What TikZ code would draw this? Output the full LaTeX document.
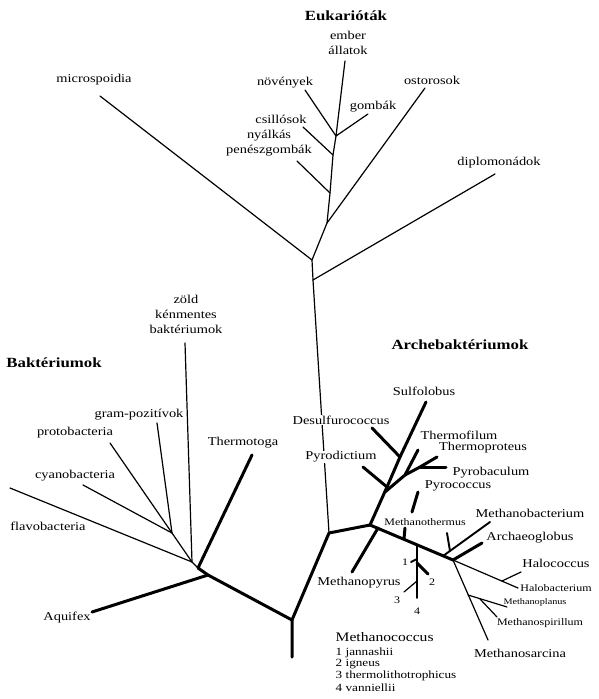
\documentclass[tikz,border=0pt]{standalone}
\usepackage{fontspec}
\setmainfont{Liberation Serif}[FakeStretch=1.2]
\begin{document}
\begin{tikzpicture}[x=1pt,y=-1pt,
  twig/.style={line width=1.2pt, line cap=round},
  limb/.style={line width=3pt, line cap=round, line join=round},
  midw/.style={line width=1.9pt, line cap=round},
  lbl/.style={font=\fontsize{12}{15}\selectfont, inner sep=0.5pt, align=center},
  sml/.style={font=\fontsize{10}{11.7}\selectfont, inner sep=0.5pt},
  lst/.style={font=\fontsize{11}{11.7}\selectfont, inner sep=0.5pt},
  xsml/.style={font=\fontsize{8.5}{10}\selectfont, inner sep=0.5pt},
  ttl/.style={font=\bfseries\fontsize{14}{16}\selectfont, inner sep=0.5pt},
  wht/.style={fill=white}]
\useasboundingbox (0,0) rectangle (599,699);

% ---------- coordinates ----------
% eukaryotes
\coordinate (E0) at (329,533);
\coordinate (EB) at (313,280);
\coordinate (EA) at (312,260);
\coordinate (EC) at (327,223);
\coordinate (ED) at (330,193);
\coordinate (EE) at (333,155);
\coordinate (EF) at (336,136);
\coordinate (tMicro) at (100,96);
\coordinate (tDiplo) at (495,174);
\coordinate (tOstor) at (425,88);
\coordinate (tNyalk) at (297,161);
\coordinate (tCsill) at (303,127);
\coordinate (tNov) at (305,90);
\coordinate (tGomb) at (368,114);
\coordinate (tEmber) at (345,61);
% bacteria
\coordinate (R) at (292,620);
\coordinate (Rs) at (292,657);
\coordinate (B1) at (208,575);
\coordinate (B2) at (198,568);
\coordinate (B3) at (192,562);
\coordinate (B4) at (172,533);
\coordinate (tAq) at (92,612);
\coordinate (tTt) at (252,455);
\coordinate (tZold) at (185,343);
\coordinate (tGram) at (157,423);
\coordinate (tProto) at (110,443);
\coordinate (tCyano) at (83,485);
\coordinate (tFlavo) at (10,488);
% archaea
\coordinate (A0) at (370,525);
\coordinate (C2) at (387,487);
\coordinate (C2b) at (385,492);
\coordinate (C3) at (400,457);
\coordinate (C4) at (405,475);
\coordinate (C5) at (420,467);
\coordinate (tSulf) at (426,402);
\coordinate (tDesulf) at (372,428);
\coordinate (tPyrod) at (363,467);
\coordinate (tTfil) at (418,450);
\coordinate (tTprot) at (437,457);
\coordinate (tPbac) at (446,467);
\coordinate (pc1) at (418,492);
\coordinate (pc2) at (412,512);
\coordinate (AE) at (453,560);
\coordinate (mth1) at (404,539);
\coordinate (mth2) at (405,528);
\coordinate (mpy) at (378,528);
\coordinate (tMpy) at (352,572);
\coordinate (mcT) at (417,545);
\coordinate (mcB) at (417,598);
\coordinate (mc1) at (417,559);
\coordinate (mc1t) at (411,562);
\coordinate (mc2) at (417,563);
\coordinate (mc2t) at (428,574);
\coordinate (mc3) at (417,581);
\coordinate (mc3t) at (404,592);
\coordinate (mba) at (443,556);
\coordinate (tMba) at (490,522);
\coordinate (mbs1) at (447,533);
\coordinate (mbs2) at (450,551);
\coordinate (tArch) at (482,543);
\coordinate (tHalob) at (518,588);
\coordinate (hcc) at (502,581);
\coordinate (tHcc) at (521,572);
\coordinate (tMsar) at (488,640);
\coordinate (mpl) at (468,595);
\coordinate (tMpl) at (507,607);
\coordinate (msp) at (480,599);
\coordinate (tMsp) at (497,617);

% ---------- eukaryote branches ----------
\draw[twig] (E0) -- (EB) -- (EA) -- (EC) -- (ED) -- (EE) -- (EF) -- (tEmber);
\draw[twig] (EA) -- (tMicro);
\draw[twig] (EB) -- (tDiplo);
\draw[twig] (EC) -- (tOstor);
\draw[twig] (ED) -- (tNyalk);
\draw[twig] (EE) -- (tCsill);
\draw[twig] (EF) -- (tNov);
\draw[twig] (EF) -- (tGomb);

% ---------- bacteria ----------
\draw[limb] (Rs) -- (R) -- (E0) -- (A0);
\draw[limb] (R) -- (B1) -- (B2) -- (tTt);
\draw[limb] (B1) -- (tAq);
\draw[twig] (B2) -- (B3) -- (tZold);
\draw[twig] (B3) -- (tFlavo);
\draw[twig] (B3) -- (B4) -- (tProto);
\draw[twig] (B4) -- (tCyano);
\draw[twig] (B4) -- (tGram);

% ---------- archaea ----------
\draw[limb] (A0) -- (C2) -- (C3) -- (tSulf);
\draw[limb] (C3) -- (tDesulf);
\draw[limb] (C2) -- (tPyrod);
\draw[limb] (C2b) -- (C4) -- (tTfil);
\draw[limb] (C4) -- (C5) -- (tTprot);
\draw[limb] (C5) -- (tPbac);
\draw[limb] (pc1) -- (pc2);
\draw[limb] (A0) -- (AE);
\draw[limb] (mth1) -- (mth2);
\draw[limb] (mpy) -- (tMpy);
\draw[midw] (mcT) -- (mcB);
\draw[midw] (mc1) -- (mc1t);
\draw[limb] (mc2) -- (mc2t);
\draw[twig] (mc3) -- (mc3t);
\draw[midw] (mba) -- (tMba);
\draw[midw] (mbs1) -- (mbs2);
\draw[limb] (AE) -- (tArch);
\draw[twig] (AE) -- (tHalob);
\draw[twig] (hcc) -- (tHcc);
\draw[twig] (AE) -- (tMsar);
\draw[twig] (mpl) -- (tMpl);
\draw[twig] (msp) -- (tMsp);

% ---------- labels ----------
\node[ttl] (lEuk) at (346,16) {Eukarióták};
\node[lbl] (lEmber) at (348,43) {ember\\állatok};
\node[lbl] (lMicro) at (94,80) {microspoidia};
\node[lbl] (lNov) at (285,83) {növények};
\node[lbl] (lGomb) at (373,107) {gombák};
\node[lbl] (lOstor) at (432,80) {ostorosok};
\node[lbl] (lCsill) at (281,119) {csillósok};
\node[lbl] (lNyalk) at (269,143.5) {nyálkás\\penészgombák};
\node[lbl] (lDiplo) at (499,163) {diplomonádok};

\node[ttl] (lBakt) at (54,363) {Baktériumok};
\node[lbl] (lZold) at (186,314.5) {zöld\\kénmentes\\baktériumok};
\node[lbl] (lGram) at (139,415) {gram-pozitívok};
\node[lbl] (lProto) at (75,433) {protobacteria};
\node[lbl] (lCyano) at (75,476) {cyanobacteria};
\node[lbl] (lFlavo) at (48,526) {flavobacteria};
\node[lbl] (lAq) at (67,618) {Aquifex};
\node[lbl] (lTt) at (243,443) {Thermotoga};

\node[ttl] (lArch) at (460,345) {Archebaktériumok};
\node[lbl] (lSulf) at (424,391) {Sulfolobus};
\node[lbl,wht] (lDesulf) at (341,420) {Desulfurococcus};
\node[lbl,wht] (lPyrod) at (341,457) {Pyrodictium};
\node[lbl] (lTfil) at (459,435) {Thermofilum};
\node[lbl] (lTprot) at (483,448) {Thermoproteus};
\node[lbl] (lPbac) at (491,473) {Pyrobaculum};
\node[lbl] (lPcoc) at (458,486) {Pyrococcus};
\node[sml] (lMth) at (425,522) {Methanothermus};
\node[lbl] (lMba) at (530,513) {Methanobacterium};
\node[lbl] (lArchg) at (530,538) {Archaeoglobus};
\node[lbl] (lHcc) at (556,563) {Halococcus};
\node[sml] (lHalob) at (556,588) {Halobacterium};
\node[xsml] (lMpl) at (535,602) {Methanoplanus};
\node[sml] (lMsp) at (540,623) {Methanospirillum};
\node[lbl] (lMsar) at (520,653) {Methanosarcina};
\node[lbl] (lMpy) at (359,583) {Methanopyrus};
\node[sml] (n1) at (405,562) {1};
\node[sml] (n2) at (432,582) {2};
\node[sml] (n3) at (397,600) {3};
\node[sml] (n4) at (417,611) {4};
\node[lbl,font=\fontsize{13}{15}\selectfont,anchor=west] (lMcc) at (335,637) {Methanococcus};
\node[lst,anchor=west] (m1) at (335,653) {1 jannashii};
\node[lst,anchor=west] (m2) at (335,664.5) {2 igneus};
\node[lst,anchor=west] (m3) at (335,676) {3 thermolithotrophicus};
\node[lst,anchor=west] (m4) at (335,687.5) {4 vanniellii};
\end{tikzpicture}
\end{document}
